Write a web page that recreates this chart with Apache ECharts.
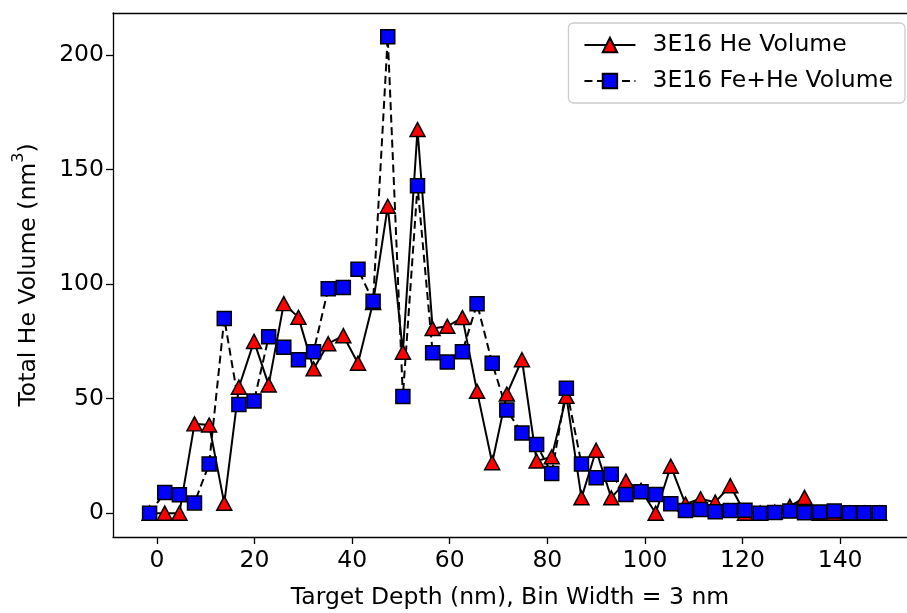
<!DOCTYPE html>
<html>
<head>
<meta charset="utf-8">
<script src="https://cdn.jsdelivr.net/npm/echarts@6/dist/echarts.min.js"></script>
<style>
  html, body { margin: 0; padding: 0; background: #ffffff; overflow: hidden; }
  #chart { width: 907px; height: 613px; }
</style>
</head>
<body>
<div id="chart"></div>
<script>
// Bin centres along the target depth (nm)
const depth = [
  -1.5, 1.6, 4.6, 7.7, 10.7, 13.8, 16.8, 19.9, 22.9, 26.0,
  29.0, 32.1, 35.1, 38.2, 41.2, 44.3, 47.3, 50.4, 53.4, 56.5,
  59.5, 62.6, 65.6, 68.7, 71.7, 74.8, 77.8, 80.9, 83.9, 87.0,
  90.0, 93.1, 96.1, 99.2, 102.2, 105.3, 108.3, 111.4, 114.4, 117.5,
  120.5, 123.6, 126.6, 129.7, 132.7, 135.8, 138.8, 141.9, 144.9, 148.0
];

// Total He volume per bin (nm^3)
const heVolume = [
  0, 0, 0, 39, 38.5, 4.3, 55, 75, 56, 91.5,
  85.5, 63, 74, 77.5, 65.5, 92, 134, 70.3, 167.5, 80.6,
  81.6, 85.4, 53.2, 22, 52, 67, 22.8, 24.6, 51, 6.7,
  27.5, 6.7, 14, 10, 0, 20.5, 4, 6.3, 4.8, 12,
  0, 0, 0.5, 3, 6.9, 0, 0, 0, 0, 0
];

const feHeVolume = [
  0, 9, 8, 4.5, 21.5, 85, 47.5, 49, 77, 72.5,
  67, 70.5, 98, 98.5, 106.5, 92.5, 208, 51, 143, 70,
  66, 70.5, 91.5, 65.5, 45, 35, 30, 17.3, 54.5, 21.5,
  15.5, 17, 8.2, 9.4, 8.2, 4.1, 1.2, 1.6, 0.6, 1.2,
  1.3, 0, 0.3, 0.9, 0.2, 0.5, 0.9, 0.2, 0.2, 0.2
];

const seriesNames = ['3E16 He Volume', '3E16 Fe+He Volume'];
const xTicks = [0, 20, 40, 60, 80, 100, 120, 140];
const yTicks = [0, 50, 100, 150, 200];

const FONT = 'DejaVu Sans';
const FS = 23.5;

// visible depth window; the frame runs past the right edge, so no right spine
const X_MIN = -9;
const X_MAX = 153.7;

const pairs = (ys) => depth.map((d, i) => [d, ys[i]]);

const chart = echarts.init(document.getElementById('chart'), null, { renderer: 'canvas' });

const spine = { show: true, onZero: false, lineStyle: { color: '#000', width: 1.3 } };
const tickStyle = { show: true, length: 7, lineStyle: { color: '#000', width: 1.3 } };
const labelStyle = { fontFamily: FONT, fontSize: FS, color: '#000' };

chart.setOption({
  animation: false,
  backgroundColor: '#ffffff',
  textStyle: { fontFamily: FONT },
  grid: {
    left: 113, top: 13, bottom: 76, right: 0,
    containLabel: false,
    outerBoundsMode: 'none'
  },
  legend: {
    orient: 'vertical',
    right: 2, top: 23,
    padding: [9, 12, 9, 15],
    backgroundColor: '#ffffff',
    borderColor: '#cccccc',
    borderWidth: 1.3,
    borderRadius: 5,
    itemWidth: 51,
    itemHeight: 18,
    itemGap: 10,
    data: seriesNames,
    textStyle: Object.assign({}, labelStyle, { lineHeight: 26, padding: [0, 0, 0, 12] })
  },
  xAxis: [
    {
      type: 'value', min: X_MIN, max: X_MAX, position: 'bottom',
      splitLine: { show: false },
      axisLine: spine,
      axisTick: Object.assign({}, tickStyle, { customValues: xTicks }),
      axisLabel: Object.assign({ customValues: xTicks, margin: 12 }, labelStyle),
      name: 'Target Depth (nm), Bin Width = 3 nm',
      nameLocation: 'middle',
      nameGap: 49,
      nameTextStyle: labelStyle
    },
    {
      // top spine of the frame
      type: 'value', min: X_MIN, max: X_MAX, position: 'top',
      splitLine: { show: false },
      axisLine: spine,
      axisTick: { show: false },
      axisLabel: { show: false }
    }
  ],
  yAxis: {
    type: 'value', min: -10.4, max: 218.4,
    splitLine: { show: false },
    axisLine: spine,
    axisTick: Object.assign({}, tickStyle, { customValues: yTicks }),
    axisLabel: Object.assign({ customValues: yTicks, margin: 9 }, labelStyle),
    name: '{t|Total He Volume (nm}{s|3}{t|)}',
    nameLocation: 'middle',
    nameGap: 72,
    nameTextStyle: {
      fontFamily: FONT, fontSize: FS, color: '#000',
      rich: {
        t: { fontFamily: FONT, fontSize: FS, color: '#000', lineHeight: 30, verticalAlign: 'bottom' },
        s: { fontFamily: FONT, fontSize: 16, color: '#000', lineHeight: 30, verticalAlign: 'top' }
      }
    }
  },
  series: [
    {
      name: seriesNames[0],
      type: 'line',
      xAxisIndex: 0,
      data: pairs(heVolume),
      symbol: 'triangle',
      symbolSize: [15, 14],
      showAllSymbol: true,
      lineStyle: { color: '#000', width: 2, type: 'solid' },
      itemStyle: { color: '#ff0000', borderColor: '#000', borderWidth: 1.5 },
      emphasis: { disabled: true }
    },
    {
      name: seriesNames[1],
      type: 'line',
      xAxisIndex: 0,
      data: pairs(feHeVolume),
      symbol: 'rect',
      symbolSize: 14,
      showAllSymbol: true,
      lineStyle: { color: '#000', width: 2, type: [8, 4.5] },
      itemStyle: { color: '#0000ff', borderColor: '#000', borderWidth: 1.5 },
      emphasis: { disabled: true }
    }
  ]
});
</script>
</body>
</html>
